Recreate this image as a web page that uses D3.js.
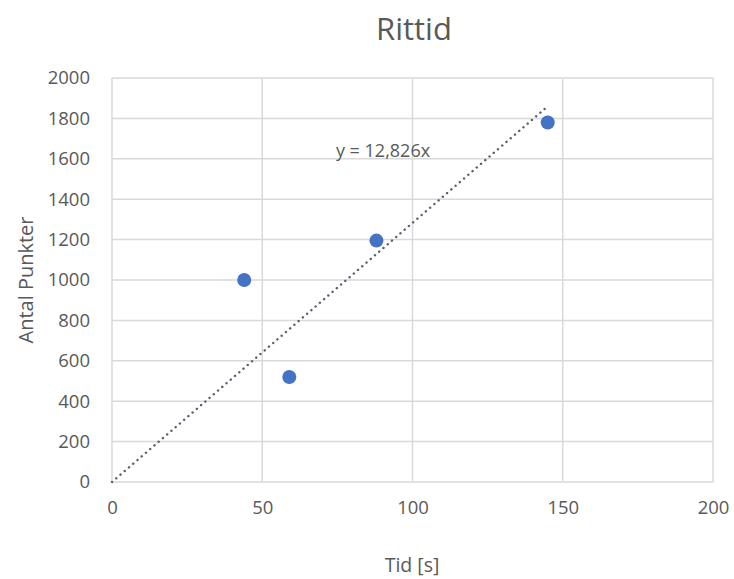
<!DOCTYPE html>
<html>
<head>
<meta charset="utf-8">
<script src="https://cdn.jsdelivr.net/npm/d3@7"></script>
<style>
  html, body { margin: 0; padding: 0; background: #fff; }
  svg { display: block; font-family: "Open Sans", "Liberation Sans", sans-serif; }
</style>
</head>
<body>
<svg id="chart" width="734" height="579"></svg>
<script>
// Ride time vs. points
const tider = [44, 59, 88, 145];          // Tid [s]
const punkter = [1000, 520, 1195, 1780];  // Antal Punkter
const lutning = 12.826;                   // trendline through origin: y = k·x
const xTicks = [0, 50, 100, 150, 200];
const yTicks = [0, 200, 400, 600, 800, 1000, 1200, 1400, 1600, 1800, 2000];
const titel = "Rittid";
const xTitel = "Tid [s]";
const yTitel = "Antal Punkter";
const ekvation = "y = 12,826x";

const svg = d3.select("#chart");
const m = { left: 112, right: 713, top: 78, bottom: 482 };

const x = d3.scaleLinear().domain([0, 200]).range([m.left, m.right]);
const y = d3.scaleLinear().domain([0, 2000]).range([m.bottom, m.top]);

const textColor = "#595959";
const gridColor = "#d9d9d9";
const fmt = d3.format("d");

// gridlines
svg.append("g").selectAll("line").data(yTicks).join("line")
  .attr("x1", m.left).attr("x2", m.right)
  .attr("y1", d => y(d)).attr("y2", d => y(d))
  .attr("stroke", gridColor).attr("stroke-width", 1.5);
svg.append("g").selectAll("line").data(xTicks).join("line")
  .attr("y1", m.top).attr("y2", m.bottom)
  .attr("x1", d => x(d)).attr("x2", d => x(d))
  .attr("stroke", gridColor).attr("stroke-width", 1.5);

// axes (labels only, no domain lines)
const yAxis = svg.append("g")
  .attr("transform", `translate(${m.left - 22},0)`)
  .call(d3.axisLeft(y).tickValues(yTicks).tickFormat(fmt).tickSize(0).tickPadding(0));
yAxis.select(".domain").remove();
yAxis.selectAll("text")
  .attr("fill", textColor).style("font-size", "18.5px")
  .style("font-family", "'Open Sans', sans-serif");

const xAxis = svg.append("g")
  .attr("transform", `translate(0,${m.bottom + 19})`)
  .call(d3.axisBottom(x).tickValues(xTicks).tickFormat(fmt).tickSize(0).tickPadding(0));
xAxis.select(".domain").remove();
xAxis.selectAll("text")
  .attr("fill", textColor).style("font-size", "18.5px")
  .style("font-family", "'Open Sans', sans-serif");

// trendline
const xMax = d3.max(tider);
svg.append("line")
  .attr("x1", x(0)).attr("y1", y(0))
  .attr("x2", x(xMax)).attr("y2", y(lutning * xMax))
  .attr("stroke", "#55606f").attr("stroke-width", 2.4)
  .attr("stroke-linecap", "round")
  .attr("stroke-dasharray", "0.1 5.5");

// points
svg.append("g").selectAll("circle").data(tider).join("circle")
  .attr("cx", d => x(d)).attr("cy", (d, i) => y(punkter[i]))
  .attr("r", 7).attr("fill", "#4472c4");

// equation label
svg.append("text").attr("x", 383).attr("y", 157)
  .attr("text-anchor", "middle").attr("fill", textColor)
  .style("font-size", "18px").text(ekvation);

// title
svg.append("text").attr("x", 414).attr("y", 40)
  .attr("text-anchor", "middle").attr("fill", textColor)
  .style("font-size", "31px").text(titel);

// axis titles
svg.append("text").attr("x", 412).attr("y", 572)
  .attr("text-anchor", "middle").attr("fill", textColor)
  .style("font-size", "19.5px").text(xTitel);
svg.append("text")
  .attr("transform", `translate(33,${(m.top + m.bottom) / 2}) rotate(-90)`)
  .attr("text-anchor", "middle").attr("fill", textColor)
  .style("font-size", "20px").text(yTitel);
</script>
</body>
</html>
